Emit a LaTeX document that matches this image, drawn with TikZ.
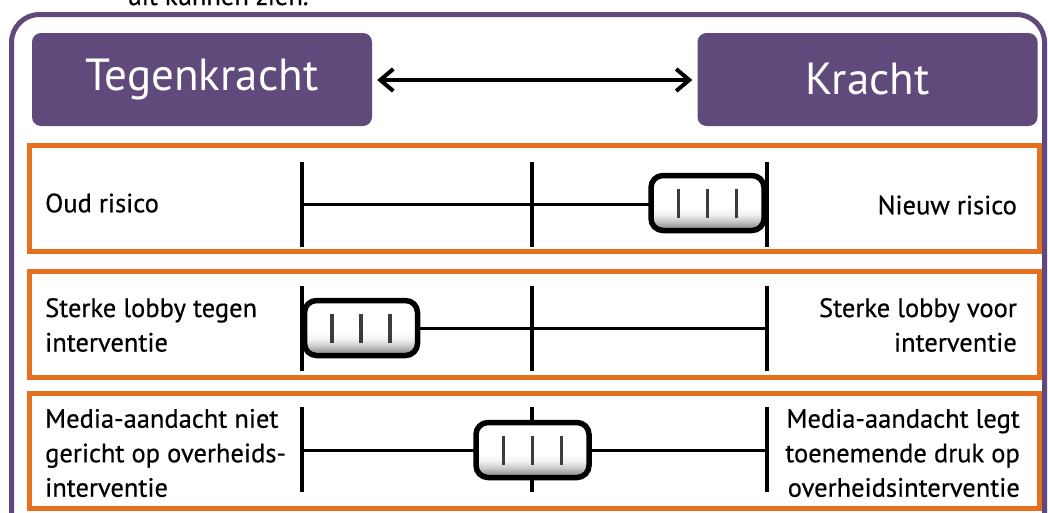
\documentclass[tikz,border=0pt]{standalone}
\usepackage{fontspec}
\setmainfont{PT Sans}
\newfontfamily\lblfont{PT Sans}[FakeBold=0.5]
\usetikzlibrary{arrows.meta}
\definecolor{purp}{HTML}{604A7B}
\definecolor{orng}{HTML}{E5701F}
\definecolor{bar}{HTML}{3C3C3C}
\pgfdeclareverticalshading{slidershade}{100bp}{color(0bp)=(gray!95); color(25bp)=(gray!95); color(29bp)=(gray!75); color(34bp)=(gray!40); color(40bp)=(gray!10); color(47bp)=(white); color(100bp)=(white)}
\pgfdeclarehorizontalshading{sideshade}{100bp}{color(0bp)=(white); color(25bp)=(white); color(68bp)=(white); color(75bp)=(gray!60); color(100bp)=(gray!60)}
\tikzset{
  titlebox/.style={fill=purp, rounded corners=9pt, minimum width=340pt, minimum height=93pt, text=white, inner sep=0pt, font=\fontsize{45}{50}\selectfont},
  rowbox/.style={draw=orng, line width=5pt},
  frame/.style={draw=purp, line width=5pt, rounded corners=28pt},
  lbl/.style={inner sep=0pt, font=\lblfont\fontsize{26.5}{34.5}\selectfont},
  tick/.style={line width=4pt, line cap=butt},
  hline/.style={line width=3pt},
  slider/.style={draw=black, line width=5.5pt, rounded corners=12pt, shading=slidershade, minimum width=113pt, minimum height=55pt, inner sep=0pt,
    preaction={shading=sideshade}},
  sbar/.style={draw=bar, line width=3.5pt},
  barb/.tip={Straight Barb[length=13pt,width=22pt,line width=4pt]},
}
\newcommand{\sliderbars}[1]{%
  \draw[sbar] ([xshift=-29pt,yshift=14.5pt]#1.center) -- ([xshift=-29pt,yshift=-14.5pt]#1.center);
  \draw[sbar] ([yshift=14.5pt]#1.center) -- ([yshift=-14.5pt]#1.center);
  \draw[sbar] ([xshift=29pt,yshift=14.5pt]#1.center) -- ([xshift=29pt,yshift=-14.5pt]#1.center);}
\begin{document}
\begin{tikzpicture}[x=1pt,y=-1pt]
\useasboundingbox (0,0) rectangle (1048,512);
\clip (0,0) rectangle (1048,512);
\fill[white] (0,0) rectangle (1048,512);
% top fragment of text (cut by the top edge, as in the reference)
\node[lbl, anchor=base] (frag) at (218,5) {uit kunnen zien.};
% outer frame
\draw[frame] (11.5,14.5) rectangle (1044.5,600);
% title boxes
\node[titlebox] (teg) at (202,79.5) {Tegenkracht};
\node[titlebox] (kra) at (867.5,79.5) {Kracht};
\draw[line width=3.5pt, barb-barb, shorten <=5pt, shorten >=5pt] (teg.east |- 0,80) -- (kra.west |- 0,80);
% row boxes
\draw[rowbox] (29,145.5) rectangle (1039,251);
\draw[rowbox] (29,271) rectangle (1039,377);
\draw[rowbox] (29,393.5) rectangle (1039,508);
% row 1
\coordinate (a1) at (302,204); \coordinate (b1) at (532,204); \coordinate (c1) at (767,204);
\draw[hline] (a1) -- (c1);
\foreach \p in {a1,b1,c1} \draw[tick] ([yshift=-43pt]\p) -- ([yshift=42pt]\p);
\node[slider] (s1) at (707.5,203) {};
\sliderbars{s1}
\node[lbl, anchor=west, align=left] (l1) at (45,203) {Oud risico};
\node[lbl, anchor=east, align=right] (r1) at (1017,205) {Nieuw risico};
% row 2
\coordinate (a2) at (302,328); \coordinate (b2) at (532,328); \coordinate (c2) at (767,328);
\draw[hline] (a2) -- (c2);
\foreach \p in {a2,b2,c2} \draw[tick] ([yshift=-43pt]\p) -- ([yshift=42pt]\p);
\node[slider] (s2) at (361,328) {};
\sliderbars{s2}
\node[lbl, anchor=west, align=left] (l2) at (45,325) {Sterke lobby tegen\\interventie};
\node[lbl, anchor=east, align=right] (r2) at (1017,325) {Sterke lobby voor\\interventie};
% row 3
\coordinate (a3) at (302,450); \coordinate (b3) at (532,450); \coordinate (c3) at (767,450);
\draw[hline] (a3) -- (c3);
\foreach \p in {a3,b3,c3} \draw[tick] ([yshift=-42pt]\p) -- ([yshift=43pt]\p);
\node[slider] (s3) at (532.5,450) {};
\sliderbars{s3}
\node[lbl, anchor=west, align=left] (l3) at (45,453) {Media-aandacht niet\\gericht op overheids-\\interventie};
\node[lbl, anchor=east, align=right] (r3) at (1020,453) {Media-aandacht legt\\toenemende druk op\\overheidsinterventie};
\end{tikzpicture}
\end{document}
